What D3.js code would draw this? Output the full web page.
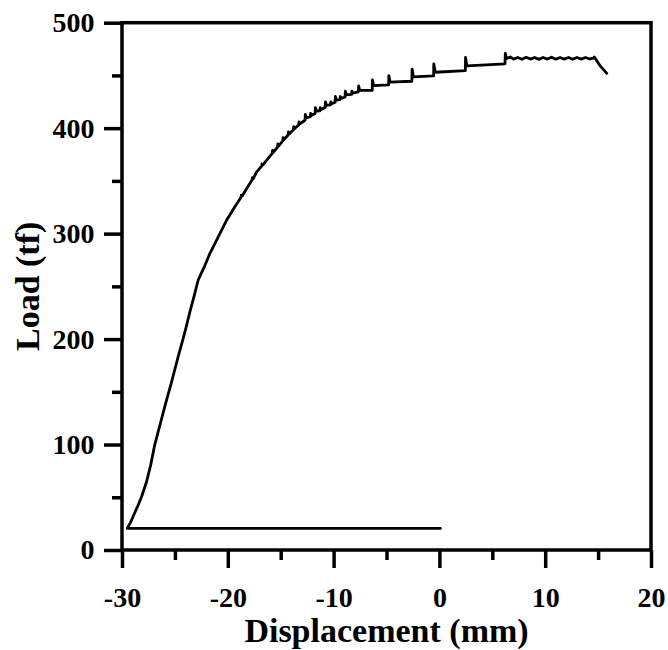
<!DOCTYPE html>
<html>
<head>
<meta charset="utf-8">
<script src="https://cdn.jsdelivr.net/npm/d3@7"></script>
<style>
  html, body { margin: 0; padding: 0; background: #fff; }
  svg { display: block; }
</style>
</head>
<body>
<svg id="chart" width="668" height="650"></svg>
<script>
// ---- Data ----
const xTicks = [-30, -20, -10, 0, 10, 20];
const xMinorTicks = [-25, -15, -5, 5, 15];
const yTicks = [0, 100, 200, 300, 400, 500];
const yMinorTicks = [50, 150, 250, 350, 450];
const xLabel = "Displacement (mm)";
const yLabel = "Load (tf)";

// Test trace: displacement (mm) and load (tf), in recorded order
const displacement = [
  0.1, -10, -20, -29.5,
  -29.2, -28.9, -28.5, -28.15, -27.7, -27.3, -26.9, -26.4, -25.9, -25.3, -24.7,
  -24.1, -23.6, -23.1, -22.8, -22.2, -21.7, -21.2, -20.75, -20.1, -19.3,
  -18.75, -18.72, -18.65, -18.2, -17.7, -17.67, -17.6, -17.3, -16.8, -16.77, -16.7, -16.3,
  -15.8, -15.77, -15.68, -15.3, -15.27, -15.18, -14.8, -14.77, -14.68,
  -14.3, -14.27, -14.18, -13.8, -13.77, -13.68, -13.3, -13.27, -13.18,
  -12.7, -12.67, -12.58, -12.2, -12.17, -12.08, -11.75, -11.72, -11.63,
  -11.3, -11.27, -11.18, -10.8, -10.77, -10.68, -10.3, -10.27, -10.18,
  -9.86, -9.83, -9.74, -9.4, -9.37, -9.28, -8.92, -8.89, -8.8,
  -8.3, -8.27, -8.18, -7.66, -7.63, -7.54,
  -6.35, -6.33, -6.2, -4.8, -4.78, -4.65, -2.6, -2.58, -2.45,
  -0.55, -0.53, -0.4, 2.45, 2.47, 2.6, 6.2, 6.23, 6.35,
  6.7, 7.0, 7.4, 7.8, 8.2, 8.6, 9.0, 9.4, 9.8, 10.2, 10.6, 11.0, 11.4, 11.8,
  12.2, 12.6, 13.0, 13.4, 13.8, 14.2, 14.56, 14.65, 15.2, 15.82
];
const load = [
  20.5, 20.5, 20.5, 20.5,
  26, 33, 42, 50.5, 64, 80, 100, 119, 138, 160, 183,
  205, 225, 244, 256, 269, 281, 291, 300, 313, 326,
  334.5, 336.5, 335.5, 343, 351, 353, 352, 358, 364, 366, 365, 370,
  376, 379, 377.2, 382, 385, 383.2, 388, 391, 389.2,
  393.5, 396.5, 394.7, 398.5, 401.5, 399.7, 403, 406, 404.2,
  407.5, 413, 409.7, 411, 414, 412.2, 414, 419.5, 416.2,
  416.5, 419.5, 417.7, 419.5, 425, 421.7, 422, 425, 423.2,
  424.5, 430, 426.7, 427, 430, 428.2, 429.5, 435, 431.7,
  432, 435, 433.2, 434.5, 440, 436,
  435.8, 445.7, 440.3, 441, 449.8, 443.6, 444.5, 456, 448.7,
  449.5, 461, 453, 454.5, 467, 459, 461, 471, 466,
  467.5, 465.5, 467, 465.3, 467.2, 465.5, 467, 465.2, 467, 465.5, 467.3, 465.4, 467, 465.5,
  467, 465.3, 467, 465.5, 467, 465.6, 466.5, 467.5, 459, 452
];

// ---- Layout ----
const W = 668, H = 650;
const margin = { left: 122, top: 22.7, right: 17, bottom: 100 };
const iw = W - margin.left - margin.right;
const ih = H - margin.top - margin.bottom;
const FONT = "'Liberation Serif', 'Times New Roman', serif";

const svg = d3.select("#chart");
const g = svg.append("g").attr("transform", `translate(${margin.left},${margin.top})`);

const x = d3.scaleLinear().domain([-30, 20]).range([0, iw]);
const y = d3.scaleLinear().domain([0, 500]).range([ih, 0]);

// Curve
const pts = displacement.map((d, i) => [d, load[i]]);
g.append("path")
  .datum(pts)
  .attr("fill", "none")
  .attr("stroke", "#000")
  .attr("stroke-width", 2.8)
  .attr("stroke-linejoin", "round")
  .attr("stroke-linecap", "round")
  .attr("d", d3.line().x(d => x(d[0])).y(d => y(d[1])));

// Minor ticks
const gxm = g.append("g").attr("transform", `translate(0,${ih})`)
  .call(d3.axisBottom(x).tickValues(xMinorTicks).tickSize(10).tickFormat(""));
const gym = g.append("g")
  .call(d3.axisLeft(y).tickValues(yMinorTicks).tickSize(10).tickFormat(""));
[gxm, gym].forEach(a => {
  a.select(".domain").remove();
  a.selectAll("line").attr("stroke-width", 3.5).attr("stroke", "#000");
});

// Major ticks
const gx = g.append("g").attr("transform", `translate(0,${ih})`)
  .call(d3.axisBottom(x).tickValues(xTicks).tickSize(18).tickPadding(19).tickFormat(d3.format("d")));
const gy = g.append("g")
  .call(d3.axisLeft(y).tickValues(yTicks).tickSize(18).tickPadding(9.5).tickFormat(d3.format("d")));
[gx, gy].forEach(a => {
  a.select(".domain").remove();
  a.selectAll("line").attr("stroke-width", 3.5).attr("stroke", "#000");
  a.selectAll("text")
    .attr("fill", "#000")
    .style("font-family", FONT)
    .style("font-weight", "bold")
    .style("font-size", "28px");
});
gx.selectAll("text").text(d => d < 0 ? "-" + Math.abs(d) : d);

// Frame
g.append("rect")
  .attr("x", 0).attr("y", 0).attr("width", iw).attr("height", ih)
  .attr("fill", "none").attr("stroke", "#000").attr("stroke-width", 3.5);

// Axis titles
svg.append("text")
  .attr("x", margin.left + iw / 2)
  .attr("y", 642)
  .attr("text-anchor", "middle")
  .style("font-family", FONT)
  .style("font-weight", "bold")
  .style("font-size", "34px")
  .text(xLabel);

svg.append("text")
  .attr("transform", `translate(39,${margin.top + ih / 2}) rotate(-90)`)
  .attr("text-anchor", "middle")
  .style("font-family", FONT)
  .style("font-weight", "bold")
  .style("font-size", "34px")
  .text(yLabel);
</script>
</body>
</html>
